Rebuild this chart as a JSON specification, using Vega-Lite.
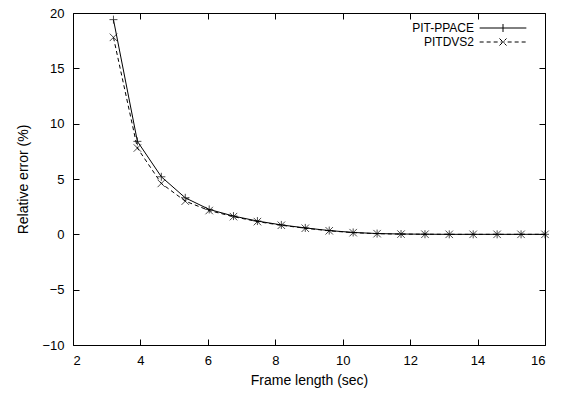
{
  "$schema": "https://vega.github.io/schema/vega-lite/v6.json",
  "width": 472,
  "height": 332,
  "autosize": "none",
  "padding": {"left": 73, "top": 13, "right": 20, "bottom": 49},
  "background": "white",
  "config": {
    "font": "Liberation Sans",
    "view": {"stroke": "black", "strokeWidth": 1},
    "axis": {
      "domain": false,
      "grid": false,
      "tickColor": "black",
      "tickSize": -6,
      "tickWidth": 1,
      "labelColor": "black",
      "labelFontSize": 13,
      "titleFontSize": 14,
      "titleFontWeight": "normal",
      "titleColor": "black",
      "labelFont": "Liberation Sans",
      "titleFont": "Liberation Sans"
    },
    "legend": {
      "labelFont": "Liberation Sans",
      "labelFontSize": 12,
      "labelColor": "black",
      "title": null,
      "orient": "none",
      "padding": 0,
      "symbolSize": 2180,
      "symbolStrokeWidth": 1,
      "symbolStrokeColor": "black",
      "symbolFillColor": "transparent",
      "labelAlign": "right",
      "labelOffset": -53
    }
  },
  "data": {
    "values": [
      {"x": 3.2, "series": "PIT-PPACE", "y": 19.4},
      {"x": 3.91, "series": "PIT-PPACE", "y": 8.4},
      {"x": 4.62, "series": "PIT-PPACE", "y": 5.2},
      {"x": 5.33, "series": "PIT-PPACE", "y": 3.3},
      {"x": 6.04, "series": "PIT-PPACE", "y": 2.25},
      {"x": 6.76, "series": "PIT-PPACE", "y": 1.65},
      {"x": 7.47, "series": "PIT-PPACE", "y": 1.2},
      {"x": 8.18, "series": "PIT-PPACE", "y": 0.85},
      {"x": 8.89, "series": "PIT-PPACE", "y": 0.58},
      {"x": 9.6, "series": "PIT-PPACE", "y": 0.34},
      {"x": 10.31, "series": "PIT-PPACE", "y": 0.17},
      {"x": 11.02, "series": "PIT-PPACE", "y": 0.07},
      {"x": 11.73, "series": "PIT-PPACE", "y": 0.03},
      {"x": 12.44, "series": "PIT-PPACE", "y": 0.01},
      {"x": 13.16, "series": "PIT-PPACE", "y": 0.0},
      {"x": 13.87, "series": "PIT-PPACE", "y": 0.0},
      {"x": 14.58, "series": "PIT-PPACE", "y": 0.0},
      {"x": 15.29, "series": "PIT-PPACE", "y": 0.0},
      {"x": 16.0, "series": "PIT-PPACE", "y": 0.0},
      {"x": 3.2, "series": "PITDVS2", "y": 17.8},
      {"x": 3.91, "series": "PITDVS2", "y": 7.8},
      {"x": 4.62, "series": "PITDVS2", "y": 4.6},
      {"x": 5.33, "series": "PITDVS2", "y": 3.0},
      {"x": 6.04, "series": "PITDVS2", "y": 2.15},
      {"x": 6.76, "series": "PITDVS2", "y": 1.6},
      {"x": 7.47, "series": "PITDVS2", "y": 1.15},
      {"x": 8.18, "series": "PITDVS2", "y": 0.82},
      {"x": 8.89, "series": "PITDVS2", "y": 0.55},
      {"x": 9.6, "series": "PITDVS2", "y": 0.32},
      {"x": 10.31, "series": "PITDVS2", "y": 0.15},
      {"x": 11.02, "series": "PITDVS2", "y": 0.06},
      {"x": 11.73, "series": "PITDVS2", "y": 0.02},
      {"x": 12.44, "series": "PITDVS2", "y": 0.01},
      {"x": 13.16, "series": "PITDVS2", "y": 0.0},
      {"x": 13.87, "series": "PITDVS2", "y": 0.0},
      {"x": 14.58, "series": "PITDVS2", "y": 0.0},
      {"x": 15.29, "series": "PITDVS2", "y": 0.0},
      {"x": 16.0, "series": "PITDVS2", "y": 0.0}
    ]
  },
  "layer": [
    {
      "transform": [{"filter": "datum.series === 'PIT-PPACE'"}],
      "mark": {"type": "line", "strokeWidth": 1},
      "encoding": {
        "x": {
          "field": "x", "type": "quantitative",
          "scale": {"domain": [2, 16], "nice": false, "zero": false},
          "axis": {"orient": "bottom", "values": [2, 4, 6, 8, 10, 12, 14, 16], "title": "Frame length (sec)", "labelPadding": 15, "titlePadding": 6}
        },
        "y": {
          "field": "y", "type": "quantitative",
          "scale": {"domain": [-10, 20], "nice": false, "zero": false},
          "axis": {"orient": "left", "values": [-10, -5, 0, 5, 10, 15, 20], "title": "Relative error (%)", "labelPadding": 15, "titlePadding": 11}
        },
        "stroke": {
          "field": "series", "type": "nominal",
          "scale": {"domain": ["PIT-PPACE"], "range": ["black"]},
          "legend": {
            "legendX": 406,
            "legendY": -9,
            "symbolType": "M-1,0H1M0,-0.17V0.17"
          }
        }
      }
    },
    {
      "transform": [{"filter": "datum.series === 'PITDVS2'"}],
      "mark": {"type": "line", "color": "black", "strokeWidth": 1, "strokeDash": [4, 3]},
      "encoding": {
        "x": {"field": "x", "type": "quantitative", "axis": null},
        "y": {"field": "y", "type": "quantitative", "axis": null},
        "strokeDash": {
          "field": "series", "type": "nominal",
          "scale": {"domain": ["PITDVS2"], "range": [[4, 3]]},
          "legend": {
            "legendX": 406,
            "legendY": 5,
            "symbolType": "M-1,0H1M-0.15,-0.15L0.15,0.15M-0.15,0.15L0.15,-0.15"
          }
        }
      }
    },
    {
      "transform": [{"filter": "datum.series === 'PIT-PPACE'"}],
      "mark": {"type": "point", "color": "black", "strokeWidth": 1, "size": 64, "filled": false, "shape": "M0,-1V1M-1,0H1"},
      "encoding": {
        "x": {
          "field": "x", "type": "quantitative",
          "scale": {"domain": [2, 16], "nice": false, "zero": false},
          "axis": {"orient": "top", "values": [2, 4, 6, 8, 10, 12, 14, 16], "labels": false, "title": null}
        },
        "y": {
          "field": "y", "type": "quantitative",
          "scale": {"domain": [-10, 20], "nice": false, "zero": false},
          "axis": {"orient": "right", "values": [-10, -5, 0, 5, 10, 15, 20], "labels": false, "title": null}
        }
      }
    },
    {
      "transform": [{"filter": "datum.series === 'PITDVS2'"}],
      "mark": {"type": "point", "color": "black", "strokeWidth": 1, "size": 56, "filled": false, "shape": "M-1,-1L1,1M-1,1L1,-1"},
      "encoding": {
        "x": {"field": "x", "type": "quantitative", "axis": null},
        "y": {"field": "y", "type": "quantitative", "axis": null}
      }
    }
  ],
  "resolve": {"axis": {"x": "independent", "y": "independent"}}
}
